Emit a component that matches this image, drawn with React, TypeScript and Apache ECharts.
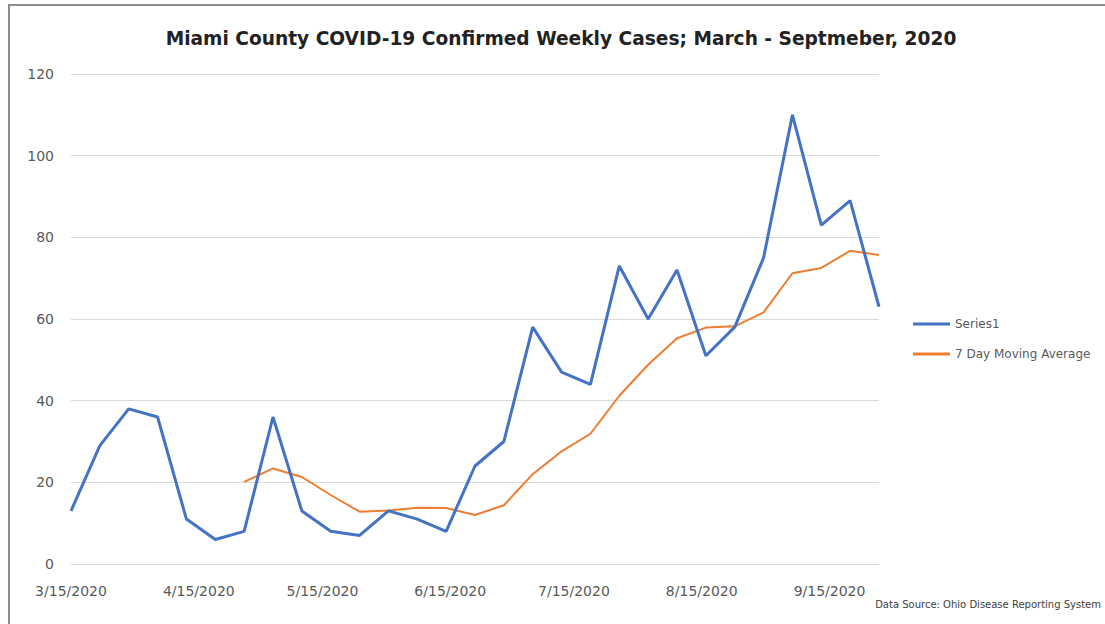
import React, { useEffect, useRef } from "react";
import * as echarts from "echarts";

const weeks = [
  "3/15/2020", "3/22/2020", "3/29/2020", "4/5/2020", "4/12/2020", "4/19/2020", "4/26/2020",
  "5/3/2020", "5/10/2020", "5/17/2020", "5/24/2020", "5/31/2020", "6/7/2020", "6/14/2020",
  "6/21/2020", "6/28/2020", "7/5/2020", "7/12/2020", "7/19/2020", "7/26/2020", "8/2/2020",
  "8/9/2020", "8/16/2020", "8/23/2020", "8/30/2020", "9/6/2020", "9/13/2020", "9/20/2020",
  "9/27/2020",
];

const weeklyCases = [
  13, 29, 38, 36, 11, 6, 8, 36, 13, 8, 7, 13, 11, 8, 24, 30, 58, 47, 44, 73, 60, 72, 51, 58, 75,
  110, 83, 89, 63,
];

const movingAverage = [
  null, null, null, null, null, null, 20.1, 23.4, 21.3, 16.9, 12.8, 13.1, 13.8, 13.7, 12.0, 14.4,
  22.0, 27.6, 31.9, 41.2, 48.8, 55.3, 57.9, 58.2, 61.6, 71.2, 72.5, 76.7, 75.7,
];

const xTickLabels = [
  "3/15/2020", "4/15/2020", "5/15/2020", "6/15/2020", "7/15/2020", "8/15/2020", "9/15/2020",
];

const yTicks = [0, 20, 40, 60, 80, 100, 120];

const TITLE = "Miami County COVID-19 Confirmed Weekly Cases; March - Septmeber, 2020";
const SOURCE = "Data Source: Ohio Disease Reporting System";
const SERIES_NAMES = ["Series1", "7 Day Moving Average"];

function toTs(s: string): number {
  const [m, d, y] = s.split("/").map(Number);
  return Date.UTC(y, m - 1, d);
}

function fmt(ts: number): string {
  const d = new Date(ts);
  return `${d.getUTCMonth() + 1}/${d.getUTCDate()}/${d.getUTCFullYear()}`;
}

export default function App() {
  const ref = useRef<HTMLDivElement>(null);

  useEffect(() => {
    document.body.style.margin = "0";
    if (!ref.current) return;
    const chart = echarts.init(ref.current, null, { renderer: "svg" });
    const xs = weeks.map(toTs);
    const blueData = xs.map((x, i) => [x, weeklyCases[i]]);
    const orangeData = xs
      .map((x, i) => [x, movingAverage[i]])
      .filter((p) => p[1] !== null);

    const font = "DejaVu Sans, sans-serif";
    chart.setOption({
      animation: false,
      grid: { left: 71, right: 226, top: 74, bottom: 60, containLabel: false },
      xAxis: {
        type: "value",
        min: xs[0],
        max: xs[xs.length - 1],
        axisLine: { show: false },
        axisTick: { show: false },
        splitLine: { show: false },
        axisLabel: {
          customValues: xTickLabels.map(toTs),
          formatter: (v: number) => fmt(v),
          color: "#595959",
          fontFamily: font,
          fontSize: 14,
          margin: 20,
          showMinLabel: true,
          showMaxLabel: true,
        },
      },
      yAxis: {
        type: "value",
        min: yTicks[0],
        max: yTicks[yTicks.length - 1],
        interval: 20,
        axisLine: { show: false },
        axisTick: { show: false },
        splitLine: { lineStyle: { color: "#D9D9D9", width: 1 } },
        axisLabel: { color: "#595959", fontFamily: font, fontSize: 14, margin: 17 },
      },
      legend: {
        orient: "vertical",
        left: 908,
        top: 312,
        icon: "rect",
        itemWidth: 37,
        itemHeight: 3,
        itemGap: 16,
        textStyle: { color: "#595959", fontFamily: font, fontSize: 12, lineHeight: 14 },
        data: SERIES_NAMES,
      },
      series: [
        {
          name: SERIES_NAMES[0],
          type: "line",
          data: blueData,
          symbol: "none",
          lineStyle: { color: "#4472C4", width: 3 },
          itemStyle: { color: "#4472C4" },
          z: 3,
        },
        {
          name: SERIES_NAMES[1],
          type: "line",
          data: orangeData,
          symbol: "none",
          lineStyle: { color: "#ED7D31", width: 2 },
          itemStyle: { color: "#ED7D31" },
          z: 2,
        },
      ],
      graphic: [
        {
          type: "line",
          shape: { x1: 8, y1: 5, x2: 1105, y2: 5 },
          style: { stroke: "#8C8C8C", lineWidth: 2 },
        },
        {
          type: "line",
          shape: { x1: 9, y1: 5, x2: 9, y2: 624 },
          style: { stroke: "#8C8C8C", lineWidth: 2 },
        },
        {
          type: "text",
          x: 561,
          y: 38,
          style: {
            text: TITLE,
            textAlign: "center",
            textVerticalAlign: "middle",
            fill: "#222222",
            font: `bold 18.6px ${font}`,
          },
        },
        {
          type: "text",
          x: 1101,
          y: 604,
          style: {
            text: SOURCE,
            textAlign: "right",
            textVerticalAlign: "middle",
            fill: "#404040",
            font: `10px ${font}`,
          },
        },
      ],
    });
    return () => chart.dispose();
  }, []);

  return <div ref={ref} style={{ width: 1105, height: 624 }} />;
}
